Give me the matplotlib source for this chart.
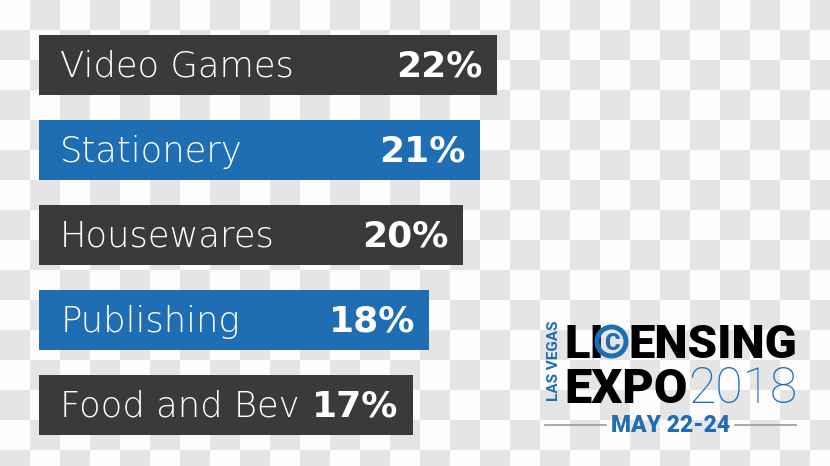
import numpy as np
import matplotlib
matplotlib.use("Agg")
import matplotlib.pyplot as plt
from matplotlib.patches import Ellipse

categories = ["Video Games", "Stationery", "Housewares", "Publishing", "Food and Bev"]
shares = [22, 21, 20, 18, 17]
bar_colors = ["#3b393a", "#1f6db3", "#3b393a", "#1f6db3", "#3b393a"]

BLUE = "#1f6db3"
W, H = 830, 466

fig = plt.figure(figsize=(W / 100, H / 100), dpi=100)

# transparent-style checkerboard background
yy, xx = np.indices((H, W))
checker = ((xx // 30 + yy // 30) % 2).astype(float)
bg = np.where(checker[..., None] == 1, 0.90, 0.995) * np.ones(3)
fig.figimage(bg, xo=0, yo=0, origin="upper", zorder=-5)

ax = fig.add_axes([0, 0, 1, 1], zorder=2)
ax.patch.set_alpha(0)
ax.set_xlim(-7.41, 41.7)
ax.set_ylim(4.718, -0.765)
ax.axis("off")

offset = -5.1
ypos = np.arange(len(categories))
ax.barh(ypos, np.array(shares) - offset, left=offset, height=0.706,
        color=bar_colors, zorder=2)

for i, (name, val) in enumerate(zip(categories, shares)):
    ax.text(offset + 1.25, i + 0.02, name, ha="left", va="center",
            color="white", fontsize=25.5, fontweight="light", family="DejaVu Sans", zorder=3)
    ax.text(val - 0.85, i + 0.02, f"{val}%", ha="right", va="center",
            color="white", fontsize=26, fontweight="bold", family="DejaVu Sans", zorder=3)


# logo, pixel positions measured from the top-left corner
def fx(px):
    return px / W


def fy(py):
    return 1 - py / H


fig.text(fx(561), fy(401), "LAS VEGAS", rotation=90, ha="right", va="bottom",
         color=BLUE, fontsize=11, fontweight="bold", family="Roboto")
fig.text(fx(564), fy(358), "LI", ha="left", va="baseline", color="black",
         fontsize=34, fontweight="black", family="Roboto")
fig.add_artist(Ellipse((fx(611.5), fy(341.5)), 29 / W, 29 / H, transform=fig.transFigure,
                       fill=False, lw=3.6, ec=BLUE, zorder=5))
fig.text(fx(612), fy(350), "C", ha="center", va="baseline", color=BLUE,
         fontsize=17, fontweight="black", family="Roboto")
fig.text(fx(797), fy(358), "ENSING", ha="right", va="baseline", color="black",
         fontsize=34, fontweight="black", family="Roboto")
fig.text(fx(564), fy(403), "EXPO", ha="left", va="baseline", color="black",
         fontsize=35, fontweight="black", family="Roboto")
fig.text(fx(797), fy(403), "2018", ha="right", va="baseline", color=BLUE,
         fontsize=36, fontweight="light", family="Roboto")
fig.text(fx(671), fy(432), "MAY 22-24", ha="center", va="baseline", color=BLUE,
         fontsize=16.5, fontweight="black", family="Roboto")
fig.add_artist(plt.Line2D([fx(545), fx(606)], [fy(425), fy(425)],
                          transform=fig.transFigure, color="#9a9a9a", lw=1.2))
fig.add_artist(plt.Line2D([fx(735), fx(796)], [fy(425), fy(425)],
                          transform=fig.transFigure, color="#9a9a9a", lw=1.2))

fig.savefig("out.png", dpi=100)
